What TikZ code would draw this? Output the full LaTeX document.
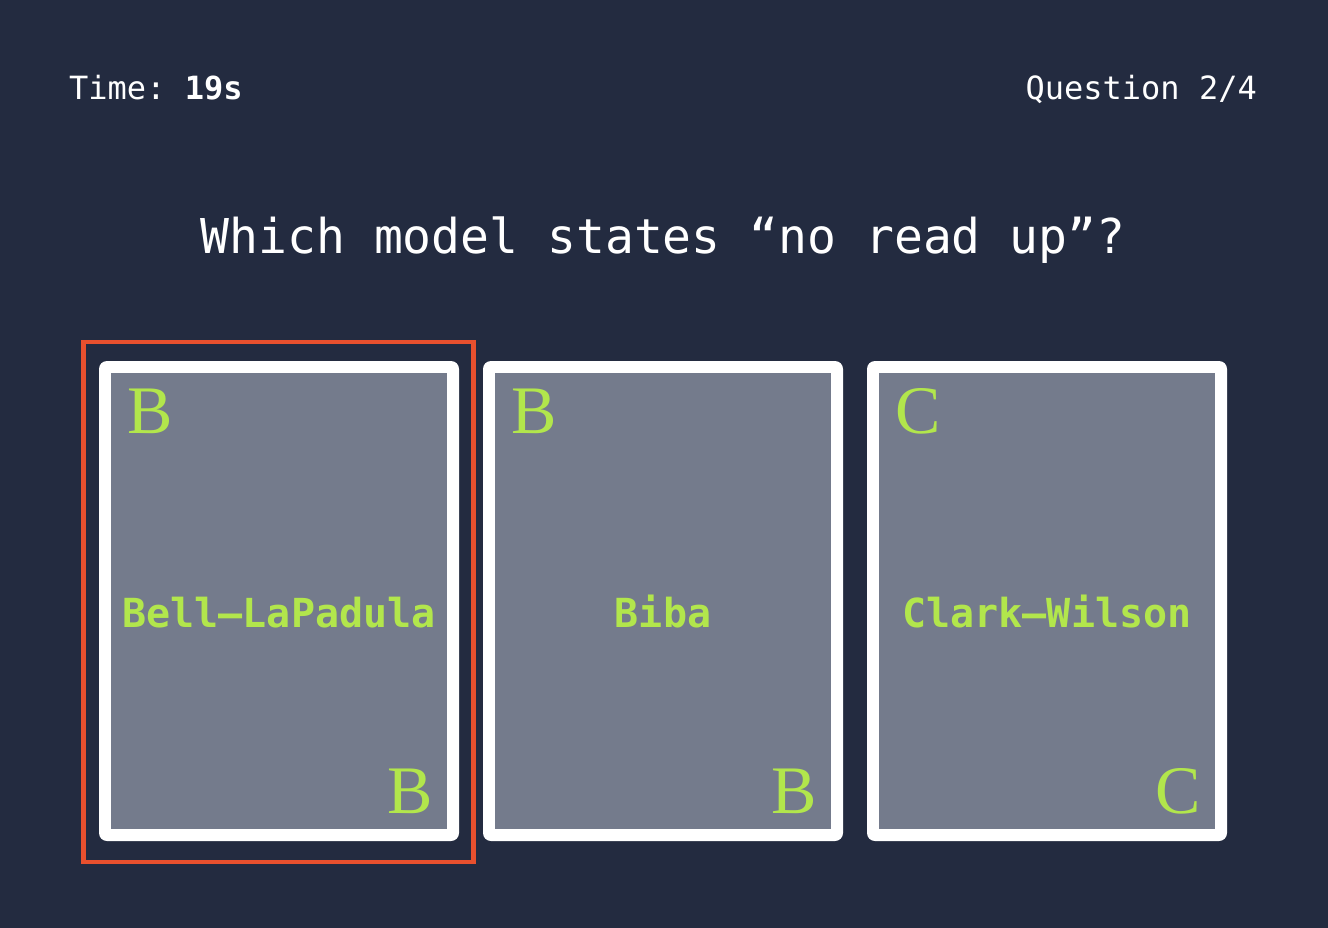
\documentclass[tikz,border=0pt]{standalone}
\usepackage{fontspec}
\setmonofont{DejaVu Sans Mono}
\newfontfamily\cardserif{Liberation Serif}
\definecolor{bgnavy}{HTML}{232B40}
\definecolor{cardgray}{HTML}{747B8C}
\definecolor{lime}{HTML}{B2E64C}
\definecolor{pickorange}{HTML}{E8502E}
\tikzset{
  cardframe/.style={draw=none, fill=white, rounded corners=8pt, minimum width=360pt, minimum height=480pt, inner sep=0pt},
  cardface/.style={draw=none, fill=cardgray, minimum width=336pt, minimum height=456pt, inner sep=0pt},
  cardlabel/.style={text=lime, font=\ttfamily\bfseries\fontsize{40}{48}\selectfont, inner sep=0pt, anchor=base},
  cornerletter/.style={text=lime, font=\cardserif\fontsize{68}{74}\selectfont, inner sep=0pt},
  hudtext/.style={text=white, font=\ttfamily\fontsize{32}{38}\selectfont, inner sep=0pt},
  titletext/.style={text=white, font=\ttfamily\fontsize{48}{56}\selectfont, inner sep=0pt, anchor=base},
  selbox/.style={draw=pickorange, line width=4.5pt}
}
\begin{document}
\begin{tikzpicture}[x=1pt, y=-1pt]
\fill[bgnavy] (0,0) rectangle (1328,928);
\useasboundingbox (0,0) rectangle (1328,928);

\node[hudtext, anchor=base west] (time) at (69,100) {Time: \textbf{19s}};
\node[hudtext, anchor=base east] (qnum) at (1257,100) {Question 2/4};
\node[titletext] (title) at (663,254) {Which model states “no read up”?};

% selection box
\draw[selbox] (83.5,342) rectangle (473.5,862);

% cards
\foreach \i/\cx/\lab/\ltr in {1/279/Bell–LaPadula/B, 2/663/Biba/B, 3/1047/Clark–Wilson/C} {
  \node[cardframe] (card\i) at (\cx,601) {};
  \node[cardface] (face\i) at (card\i.center) {};
  \node[cardlabel] (label\i) at (\cx,627) {\lab};
  \node[cornerletter, anchor=base west] (tl\i) at (\cx-152,433) {\ltr};
  \node[cornerletter, anchor=base east] (br\i) at (\cx+154,813) {\ltr};
}
\end{tikzpicture}
\end{document}
